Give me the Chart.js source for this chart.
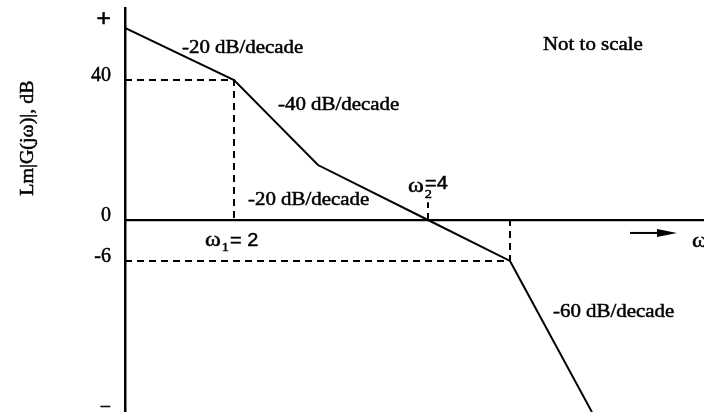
<!DOCTYPE html>
<html><head><meta charset="utf-8">
<script src="https://cdn.jsdelivr.net/npm/chart.js@4/dist/chart.umd.min.js"></script>
<style>html,body{margin:0;padding:0;background:#fff;overflow:hidden}#wrap{width:704px;height:412px;position:relative}</style>
</head><body><div id="wrap"><canvas id="c" width="704" height="412"></canvas></div>
<script>
// Sketch ("not to scale") plotting units:
// x = position along the ω axis, y = vertical position (0 = the 0 dB line)
const asymptoteX = [0, 109, 193, 303, 385, 467];
const asymptoteY = [54.9, 40, 15.7, 0, -11.7, -54.9];
const slopeLabels = ['-20 dB/decade', '-40 dB/decade', '-20 dB/decade', '-60 dB/decade'];
const tickValues = [56, 40, 0, -11.7, -54.9];
const tickLabels = ['+', '40', '0', '-6', '\u2212'];
const guide40X = [0, 109, 109];
const guide40Y = [40, 40, 0];
const guide6X = [0, 385, 385];
const guide6Y = [-11.7, -11.7, 0];
const guideW2X = [303, 303];
const guideW2Y = [0, 5.1];
const breakNames = ['\u03c9', '\u03c9'];
const breakSubs = ['1', '2'];
const breakValues = ['= 2', '=4'];
const yTitle = 'Lm|G(j\u03c9)|, dB';
const noteText = 'Not to scale';
const axisName = '\u03c9';

function pts(xs, ys) { return xs.map((x, i) => ({ x: x, y: ys[i] })); }

// label anchor positions (sketch units)
const labelPos = {
  slopes: [[57, 49.1], [153, 32.9], [123, 5.7], [428, -26.3]],
  note: [418, 50],
  brk: [[80, -6], [283, 9.4]],
  axisName: [567, -6.3],
  arrow: [505, 552, -3.7],
  yTitleY: 23.4
};

const SERIF = '"Liberation Serif", "DejaVu Serif", serif';
const SANS = '"Liberation Sans", Arial, sans-serif';

function txt(ctx, s, x, y, font, sx) {
  ctx.save();
  ctx.font = font;
  ctx.textBaseline = 'middle';
  ctx.textAlign = 'left';
  ctx.fillStyle = '#000';
  ctx.strokeStyle = '#000';
  ctx.lineWidth = 0.5;
  ctx.translate(x, y);
  ctx.scale(sx || 1.1, 1);
  ctx.fillText(s, 0, 0);
  ctx.strokeText(s, 0, 0);
  const w = ctx.measureText(s).width * (sx || 1.1);
  ctx.restore();
  return w;
}

const annot = {
  id: 'annot',
  afterDraw(chart) {
    const ctx = chart.ctx, xs = chart.scales.x, ys = chart.scales.y;
    const X = v => xs.getPixelForValue(v), Y = v => ys.getPixelForValue(v);
    const f19 = '19px ' + SERIF;
    slopeLabels.forEach((s, i) => txt(ctx, s, X(labelPos.slopes[i][0]), Y(labelPos.slopes[i][1]), f19));
    txt(ctx, noteText, X(labelPos.note[0]), Y(labelPos.note[1]), f19);
    // break frequency labels
    labelPos.brk.forEach((p, i) => {
      const x0 = X(p[0]), y0 = Y(p[1]);
      const w = txt(ctx, breakNames[i], x0, y0, '20px ' + SERIF, 1.2);
      txt(ctx, breakSubs[i], x0 + w + 1, y0 + 7, '13px ' + SERIF, 1.1);
      if (i === 0) txt(ctx, breakValues[i], x0 + 25, y0, '19px ' + SANS, 1.05);
      else txt(ctx, breakValues[i], x0 + 17, y0 - 3, '19px ' + SANS, 1.05);
    });
    // axis arrow and ω
    const ax1 = X(labelPos.arrow[0]), ax2 = X(labelPos.arrow[1]), ay = Y(labelPos.arrow[2]);
    ctx.save();
    ctx.strokeStyle = '#000'; ctx.fillStyle = '#000'; ctx.lineWidth = 2;
    ctx.beginPath(); ctx.moveTo(ax1, ay); ctx.lineTo(ax2 - 16, ay); ctx.stroke();
    ctx.beginPath(); ctx.moveTo(ax2 - 20, ay - 4); ctx.lineTo(ax2, ay); ctx.lineTo(ax2 - 20, ay + 4); ctx.closePath(); ctx.fill();
    ctx.restore();
    txt(ctx, axisName, X(labelPos.axisName[0]), Y(labelPos.axisName[1]), '20px ' + SERIF, 1.2);
    // y title
    ctx.save();
    ctx.font = '19px ' + SERIF;
    ctx.fillStyle = '#000';
    ctx.strokeStyle = '#000';
    ctx.lineWidth = 0.5;
    ctx.textAlign = 'center';
    ctx.textBaseline = 'middle';
    ctx.translate(chart.chartArea.left - 97, Y(labelPos.yTitleY));
    ctx.rotate(-Math.PI / 2);
    ctx.scale(1.05, 1);
    ctx.fillText(yTitle, 0, 0);
    ctx.strokeText(yTitle, 0, 0);
    ctx.restore();
  }
};

const dashed = { borderColor: '#000', borderWidth: 2, borderDash: [7, 5], pointRadius: 0, fill: false, tension: 0 };

new Chart(document.getElementById('c'), {
  type: 'line',
  data: {
    datasets: [
      { data: pts(asymptoteX, asymptoteY), borderColor: '#000', borderWidth: 2, pointRadius: 0, fill: false, tension: 0 },
      Object.assign({ data: pts(guide40X, guide40Y) }, dashed),
      Object.assign({ data: pts(guide6X, guide6Y) }, dashed),
      Object.assign({ data: pts(guideW2X, guideW2Y) }, dashed)
    ]
  },
  options: {
    responsive: false,
    animation: false,
    events: [],
    layout: { padding: { top: 8, left: 0, right: 0, bottom: 0 } },
    plugins: { legend: { display: false }, tooltip: { enabled: false } },
    scales: {
      x: {
        type: 'linear', min: 0, max: 579,
        position: { y: 0 },
        grid: { display: false, drawTicks: false },
        ticks: { display: false },
        border: { display: true, color: '#000', width: 2.2 }
      },
      y: {
        type: 'linear', min: -54.86, max: 60.57,
        position: 'left',
        grid: { display: false, drawTicks: false },
        border: { display: true, color: '#000', width: 2.5 },
        afterBuildTicks: s => { s.ticks = tickValues.map(v => ({ value: v })); },
        afterFit: s => { s.width = 125; s.paddingTop = 0; s.paddingBottom = 0; },
        ticks: {
          padding: 14,
          labelOffset: -4,
          color: '#000',
          textStrokeColor: '#000',
          textStrokeWidth: 0.5,
          font: c => ({ family: SERIF, size: c.index === 0 ? 26 : 20, weight: c.index === 0 ? 'bold' : 'normal' }),
          callback: (v, i) => tickLabels[i]
        }
      }
    }
  },
  plugins: [annot]
});
</script>
</body></html>
